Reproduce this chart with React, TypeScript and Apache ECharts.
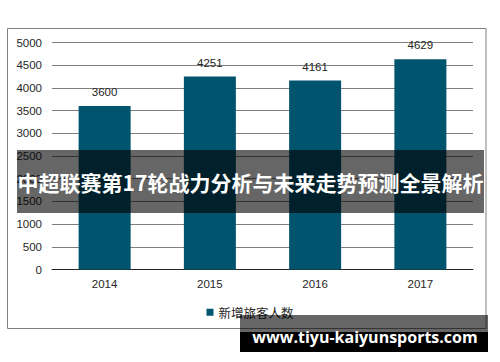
import React, { useEffect, useRef } from "react";
import * as echarts from "echarts";

const years = ["2014", "2015", "2016", "2017"];
const newPassengers = [3600, 4251, 4161, 4629];
const seriesName = "新增旅客人数";
const bannerTitle = "中超联赛第17轮战力分析与未来走势预测全景解析";
const watermark = "www.tiyu-kaiyunsports.com";

export default function App() {
  const ref = useRef<HTMLDivElement>(null);
  useEffect(() => {
    if (!ref.current) return;
    const chart = echarts.init(ref.current, undefined, { renderer: "svg" });
    chart.setOption({
      animation: false,
      backgroundColor: "#ffffff",
      textStyle: { fontFamily: "Liberation Sans, Arial, sans-serif" },
      grid: { left: 52, right: 27, top: 42.5, bottom: 92.5, containLabel: false },
      xAxis: {
        type: "category",
        data: years,
        axisLine: { lineStyle: { color: "#262626", width: 1 } },
        axisTick: { show: false },
        axisLabel: { fontSize: 11.5, color: "#262626", margin: 8 },
      },
      yAxis: {
        type: "value",
        min: 0,
        max: 5000,
        interval: 500,
        axisLine: { show: false },
        axisTick: { show: false },
        axisLabel: {
          fontSize: 11.5,
          color: "#262626",
          margin: 10,
          formatter: (v: number) => String(v),
        },
        splitLine: { lineStyle: { color: "#7f7f7f", width: 1 } },
      },
      legend: {
        data: [seriesName],
        left: "center",
        top: 301,
        icon: "rect",
        itemWidth: 7,
        itemHeight: 7,
        itemGap: 5,
        textStyle: { fontSize: 12.5, color: "#262626", fontFamily: "Noto Sans CJK SC" },
      },
      series: [
        {
          name: seriesName,
          type: "bar",
          data: newPassengers,
          barWidth: 52,
          itemStyle: { color: "#00546e" },
          label: {
            show: true,
            position: "top",
            distance: 8,
            fontSize: 11.5,
            color: "#262626",
          },
        },
      ],
      graphic: [
        {
          type: "rect",
          shape: { x: 7.5, y: 28.5, width: 478.5, height: 300 },
          style: { fill: "none", stroke: "#808080", lineWidth: 1 },
          z: 10,
        },
        {
          type: "rect",
          shape: { x: 17, y: 150, width: 467, height: 63 },
          style: { fill: "rgba(0,0,0,0.6)" },
          z: 20,
        },
        {
          type: "text",
          x: 250.5,
          y: 182,
          style: {
            text: bannerTitle,
            fill: "#ffffff",
            font: "bold 21px 'Noto Sans CJK SC'",
            align: "center",
            verticalAlign: "middle",
          },
          z: 21,
        },
        {
          type: "rect",
          shape: { x: 240, y: 315, width: 248, height: 17 },
          style: { fill: "rgba(0,0,0,0.6)" },
          z: 20,
        },
        {
          type: "rect",
          shape: { x: 240, y: 332, width: 248, height: 20 },
          style: { fill: "#000000" },
          z: 20,
        },
        {
          type: "text",
          x: 365,
          y: 337,
          style: {
            text: watermark,
            fill: "#ffffff",
            font: "bold 16px 'Open Sans'",
            align: "center",
            verticalAlign: "middle",
          },
          z: 21,
        },
      ],
    });
    return () => chart.dispose();
  }, []);
  return (
    <div
      ref={ref}
      style={{ position: "absolute", left: 0, top: 0, width: 500, height: 362 }}
    />
  );
}
